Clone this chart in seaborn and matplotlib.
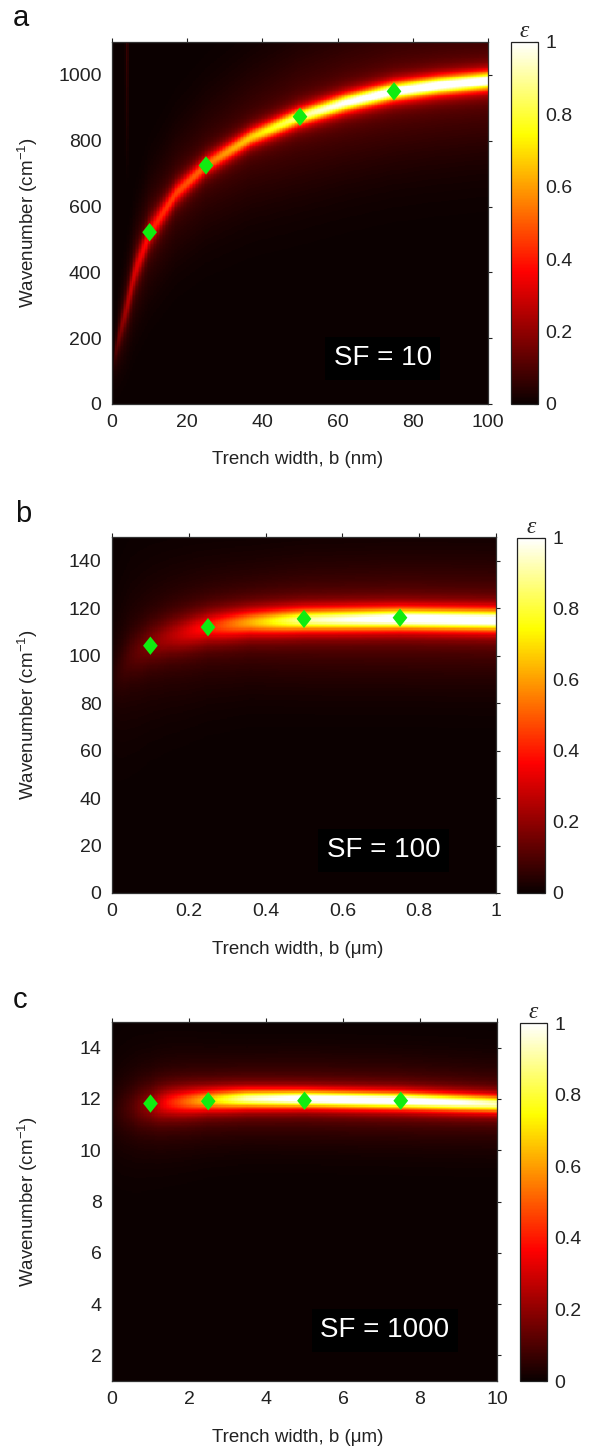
import numpy as np
import pandas as pd
import matplotlib
matplotlib.use("Agg")
import matplotlib.pyplot as plt
from matplotlib.path import Path
import seaborn as sns

# ---------------- values ----------------
# panel a : SF = 10, trench width in nm
a_knot_b = [0, 1, 2, 4, 6, 10, 17, 25, 37, 50, 62, 75, 87, 100]
a_peak = [110, 165, 215, 300, 400, 520, 640, 725, 810, 873, 915, 950, 968, 982]
a_amp = [0.0, 0.08, 0.13, 0.2, 0.26, 0.34, 0.4, 0.46, 0.6, 0.8, 0.92, 1.0, 1.0, 1.0]
a_hw = [30, 45, 55, 65, 65, 55, 45, 40, 37, 36, 36, 36, 36, 36]
a_glow_w = [80, 100, 120, 140, 160, 180, 190, 200, 210, 220, 220, 220, 220, 220]
a_glow_amp = 0.1
a_streak_b = 3.9      # faint vertical streak near the left edge
a_streak_amp = 0.07
a_streak_low = 650
a_mark_b = [10, 25, 50, 75]
a_mark_k = [522, 725, 873, 950]
a_xticks = [0, 20, 40, 60, 80, 100]
a_xticklabels = ["0", "20", "40", "60", "80", "100"]
a_yticks = [0, 200, 400, 600, 800, 1000]
a_yticklabels = ["0", "200", "400", "600", "800", "1000"]

# panel b : SF = 100, trench width in um
b_knot_b = [0, 0.05, 0.1, 0.15, 0.25, 0.36, 0.5, 0.75, 1.0]
b_peak = [90, 100, 105, 108, 112, 114, 115, 115.5, 115]
b_amp = [0.02, 0.08, 0.14, 0.2, 0.35, 0.55, 0.82, 1.0, 1.0]
b_hw = [16, 14, 12, 11, 9, 7.5, 6.5, 6, 6]
b_glow_w = [35, 35, 32, 30, 27, 25, 25, 25, 25]
b_glow_amp = 0.1
b_mark_b = [0.1, 0.25, 0.5, 0.75]
b_mark_k = [104.2, 112, 115.5, 116]
b_xticks = [0, 0.2, 0.4, 0.6, 0.8, 1.0]
b_xticklabels = ["0", "0.2", "0.4", "0.6", "0.8", "1"]
b_yticks = [0, 20, 40, 60, 80, 100, 120, 140]
b_yticklabels = ["0", "20", "40", "60", "80", "100", "120", "140"]

# panel c : SF = 1000, trench width in um
c_knot_b = [0, 0.5, 1, 1.5, 2.5, 3.5, 5, 7.5, 9, 10]
c_peak = [11.5, 11.65, 11.75, 11.85, 11.95, 12.0, 12.0, 11.93, 11.85, 11.8]
c_amp = [0.02, 0.08, 0.18, 0.35, 0.6, 0.85, 1.0, 1.0, 0.92, 0.85]
c_hw = [1.4, 1.2, 1.0, 0.8, 0.6, 0.5, 0.45, 0.45, 0.45, 0.45]
c_glow_w = [2.2, 2.2, 2.0, 1.9, 1.7, 1.6, 1.6, 1.6, 1.6, 1.6]
c_glow_amp = 0.09
c_mark_b = [1, 2.5, 5, 7.5]
c_mark_k = [11.82, 11.91, 11.93, 11.93]
c_xticks = [0, 2, 4, 6, 8, 10]
c_xticklabels = ["0", "2", "4", "6", "8", "10"]
c_yticks = [2, 4, 6, 8, 10, 12, 14]
c_yticklabels = ["2", "4", "6", "8", "10", "12", "14"]

cbar_ticks = [0, 0.2, 0.4, 0.6, 0.8, 1.0]
cbar_ticklabels = ["0", "0.2", "0.4", "0.6", "0.8", "1"]

# ---------------- style ----------------
sns.set_style("white")
plt.rcParams["font.family"] = ["Liberation Sans", "DejaVu Sans"]
plt.rcParams["mathtext.fontset"] = "custom"
plt.rcParams["mathtext.rm"] = "Liberation Sans"
plt.rcParams["mathtext.it"] = "Liberation Sans:italic"

W, H = 596, 1447
fig = plt.figure(figsize=(W / 100, H / 100), dpi=100)


def rect(x0, y0, x1, y1):
    return [x0 / W, 1 - y1 / H, (x1 - x0) / W, (y1 - y0) / H]


def field(p):
    xlim, ylim, nx, ny = p["xlim"], p["ylim"], p["nx"], p["ny"]
    xc = xlim[0] + (np.arange(nx) + 0.5) * (xlim[1] - xlim[0]) / nx
    yc = ylim[1] - (np.arange(ny) + 0.5) * (ylim[1] - ylim[0]) / ny
    X, Y = np.meshgrid(xc, yc)
    c = np.interp(X, p["knot"], p["peak"])
    A = np.interp(X, p["knot"], p["amp"])
    g = np.interp(X, p["knot"], p["hw"])
    G = np.interp(X, p["knot"], p["glow_w"])
    d = Y - c
    core = (g ** 2 / (d ** 2 + g ** 2)) ** 2
    glow = np.exp(-(d / G) ** 2)
    z = A * core + p["glow_amp"] * np.sqrt(A) * glow
    if "streak" in p:
        sb, samp, slow = p["streak"]
        z = z + samp * np.exp(-((X - sb) / 0.4) ** 2) * np.clip((Y - slow) / 400, 0, 1)
    return pd.DataFrame(np.clip(z, 0, 1), index=np.round(yc, 3), columns=np.round(xc, 4))


diamond = Path([(0, 1), (0.8, 0), (0, -1), (-0.8, 0), (0, 1)],
               [Path.MOVETO, Path.LINETO, Path.LINETO, Path.LINETO, Path.CLOSEPOLY])

panels = [
    dict(letter="a", lpos=(13, 26), box=(112, 42, 488, 404), cbox=(511, 42, 538, 404),
         xlim=(0, 100), ylim=(0, 1100), nx=250, ny=440,
         knot=a_knot_b, peak=a_peak, amp=a_amp, hw=a_hw, glow_w=a_glow_w, glow_amp=a_glow_amp,
         streak=(a_streak_b, a_streak_amp, a_streak_low),
         mx=a_mark_b, my=a_mark_k, xt=a_xticks, xtl=a_xticklabels, yt=a_yticks, ytl=a_yticklabels,
         xlabel="Trench width, b (nm)", sf="SF = 10", sfpos=(72, 139)),
    dict(letter="b", lpos=(15, 522), box=(112, 537, 496, 893), cbox=(517, 538, 545, 893),
         xlim=(0, 1), ylim=(0, 150), nx=250, ny=300,
         knot=b_knot_b, peak=b_peak, amp=b_amp, hw=b_hw, glow_w=b_glow_w, glow_amp=b_glow_amp,
         mx=b_mark_b, my=b_mark_k, xt=b_xticks, xtl=b_xticklabels, yt=b_yticks, ytl=b_yticklabels,
         xlabel="Trench width, b (\u03bcm)", sf="SF = 100", sfpos=(0.707, 18)),
    dict(letter="c", lpos=(13, 1008), box=(112, 1022, 497, 1381), cbox=(520, 1023, 547, 1381),
         xlim=(0, 10), ylim=(1, 15), nx=250, ny=280,
         knot=c_knot_b, peak=c_peak, amp=c_amp, hw=c_hw, glow_w=c_glow_w, glow_amp=c_glow_amp,
         mx=c_mark_b, my=c_mark_k, xt=c_xticks, xtl=c_xticklabels, yt=c_yticks, ytl=c_yticklabels,
         xlabel="Trench width, b (\u03bcm)", sf="SF = 1000", sfpos=(7.09, 2.98)),
]

for p in panels:
    r = rect(*p["box"])
    ax = fig.add_axes(r)
    cax = fig.add_axes(rect(*p["cbox"]))
    sns.heatmap(field(p), ax=ax, cmap="hot", vmin=0, vmax=1, cbar_ax=cax,
                xticklabels=False, yticklabels=False, rasterized=True)
    ax.set_axis_off()

    # colorbar
    cb = ax.collections[0].colorbar
    cb.outline.set_visible(True)
    cb.outline.set_linewidth(0.9)
    cb.outline.set_edgecolor("#222222")
    cb.set_ticks(cbar_ticks)
    cb.set_ticklabels(cbar_ticklabels)
    cax.tick_params(axis="y", direction="in", length=3, width=0.8, right=True, left=False,
                    labelsize=14, pad=5.5, colors="#222222")
    cax.set_title("\u03b5", fontsize=17, fontstyle="italic", family="Liberation Serif", pad=3)

    # overlay axes carrying the real data scale, ticks and markers
    ov = fig.add_axes(r, facecolor="none")
    ov.set_xlim(*p["xlim"])
    ov.set_ylim(*p["ylim"])
    sns.scatterplot(x=p["mx"], y=p["my"], ax=ov, marker=diamond, s=175, color="#10ec10",
                    edgecolor="none", linewidth=0, zorder=5, legend=False)
    ov.set_xticks(p["xt"])
    ov.set_xticklabels(p["xtl"])
    ov.set_yticks(p["yt"])
    ov.set_yticklabels(p["ytl"])
    ov.tick_params(direction="out", length=3, width=0.8, top=True, right=True,
                   labeltop=False, labelright=False, labelsize=14, pad=4.5, colors="#222222")
    for s in ov.spines.values():
        s.set_visible(True)
        s.set_linewidth(0.9)
        s.set_color("#333333")
    ov.set_xlabel(p["xlabel"], fontsize=13.5, color="#222222")
    ov.xaxis.label.set_verticalalignment("center")
    ov.xaxis.set_label_coords(0.5, 1 - (p["box"][3] + 56) / H, transform=fig.transFigure)
    ov.set_ylabel("Wavenumber (cm$^{-1}$)", fontsize=13.5, color="#222222")
    ov.yaxis.label.set_verticalalignment("center")
    ov.yaxis.set_label_coords(28 / W, 1 - (p["box"][1] + p["box"][3]) / 2 / H,
                              transform=fig.transFigure)

    ov.text(p["sfpos"][0], p["sfpos"][1], p["sf"], color="white", fontsize=20,
            ha="center", va="center",
            bbox=dict(boxstyle="square,pad=0.3", facecolor="black", edgecolor="none"))

    fig.text(p["lpos"][0] / W, 1 - p["lpos"][1] / H, p["letter"], fontsize=21,
             ha="left", va="baseline", color="#111111")

fig.savefig("out.png", dpi=100)
